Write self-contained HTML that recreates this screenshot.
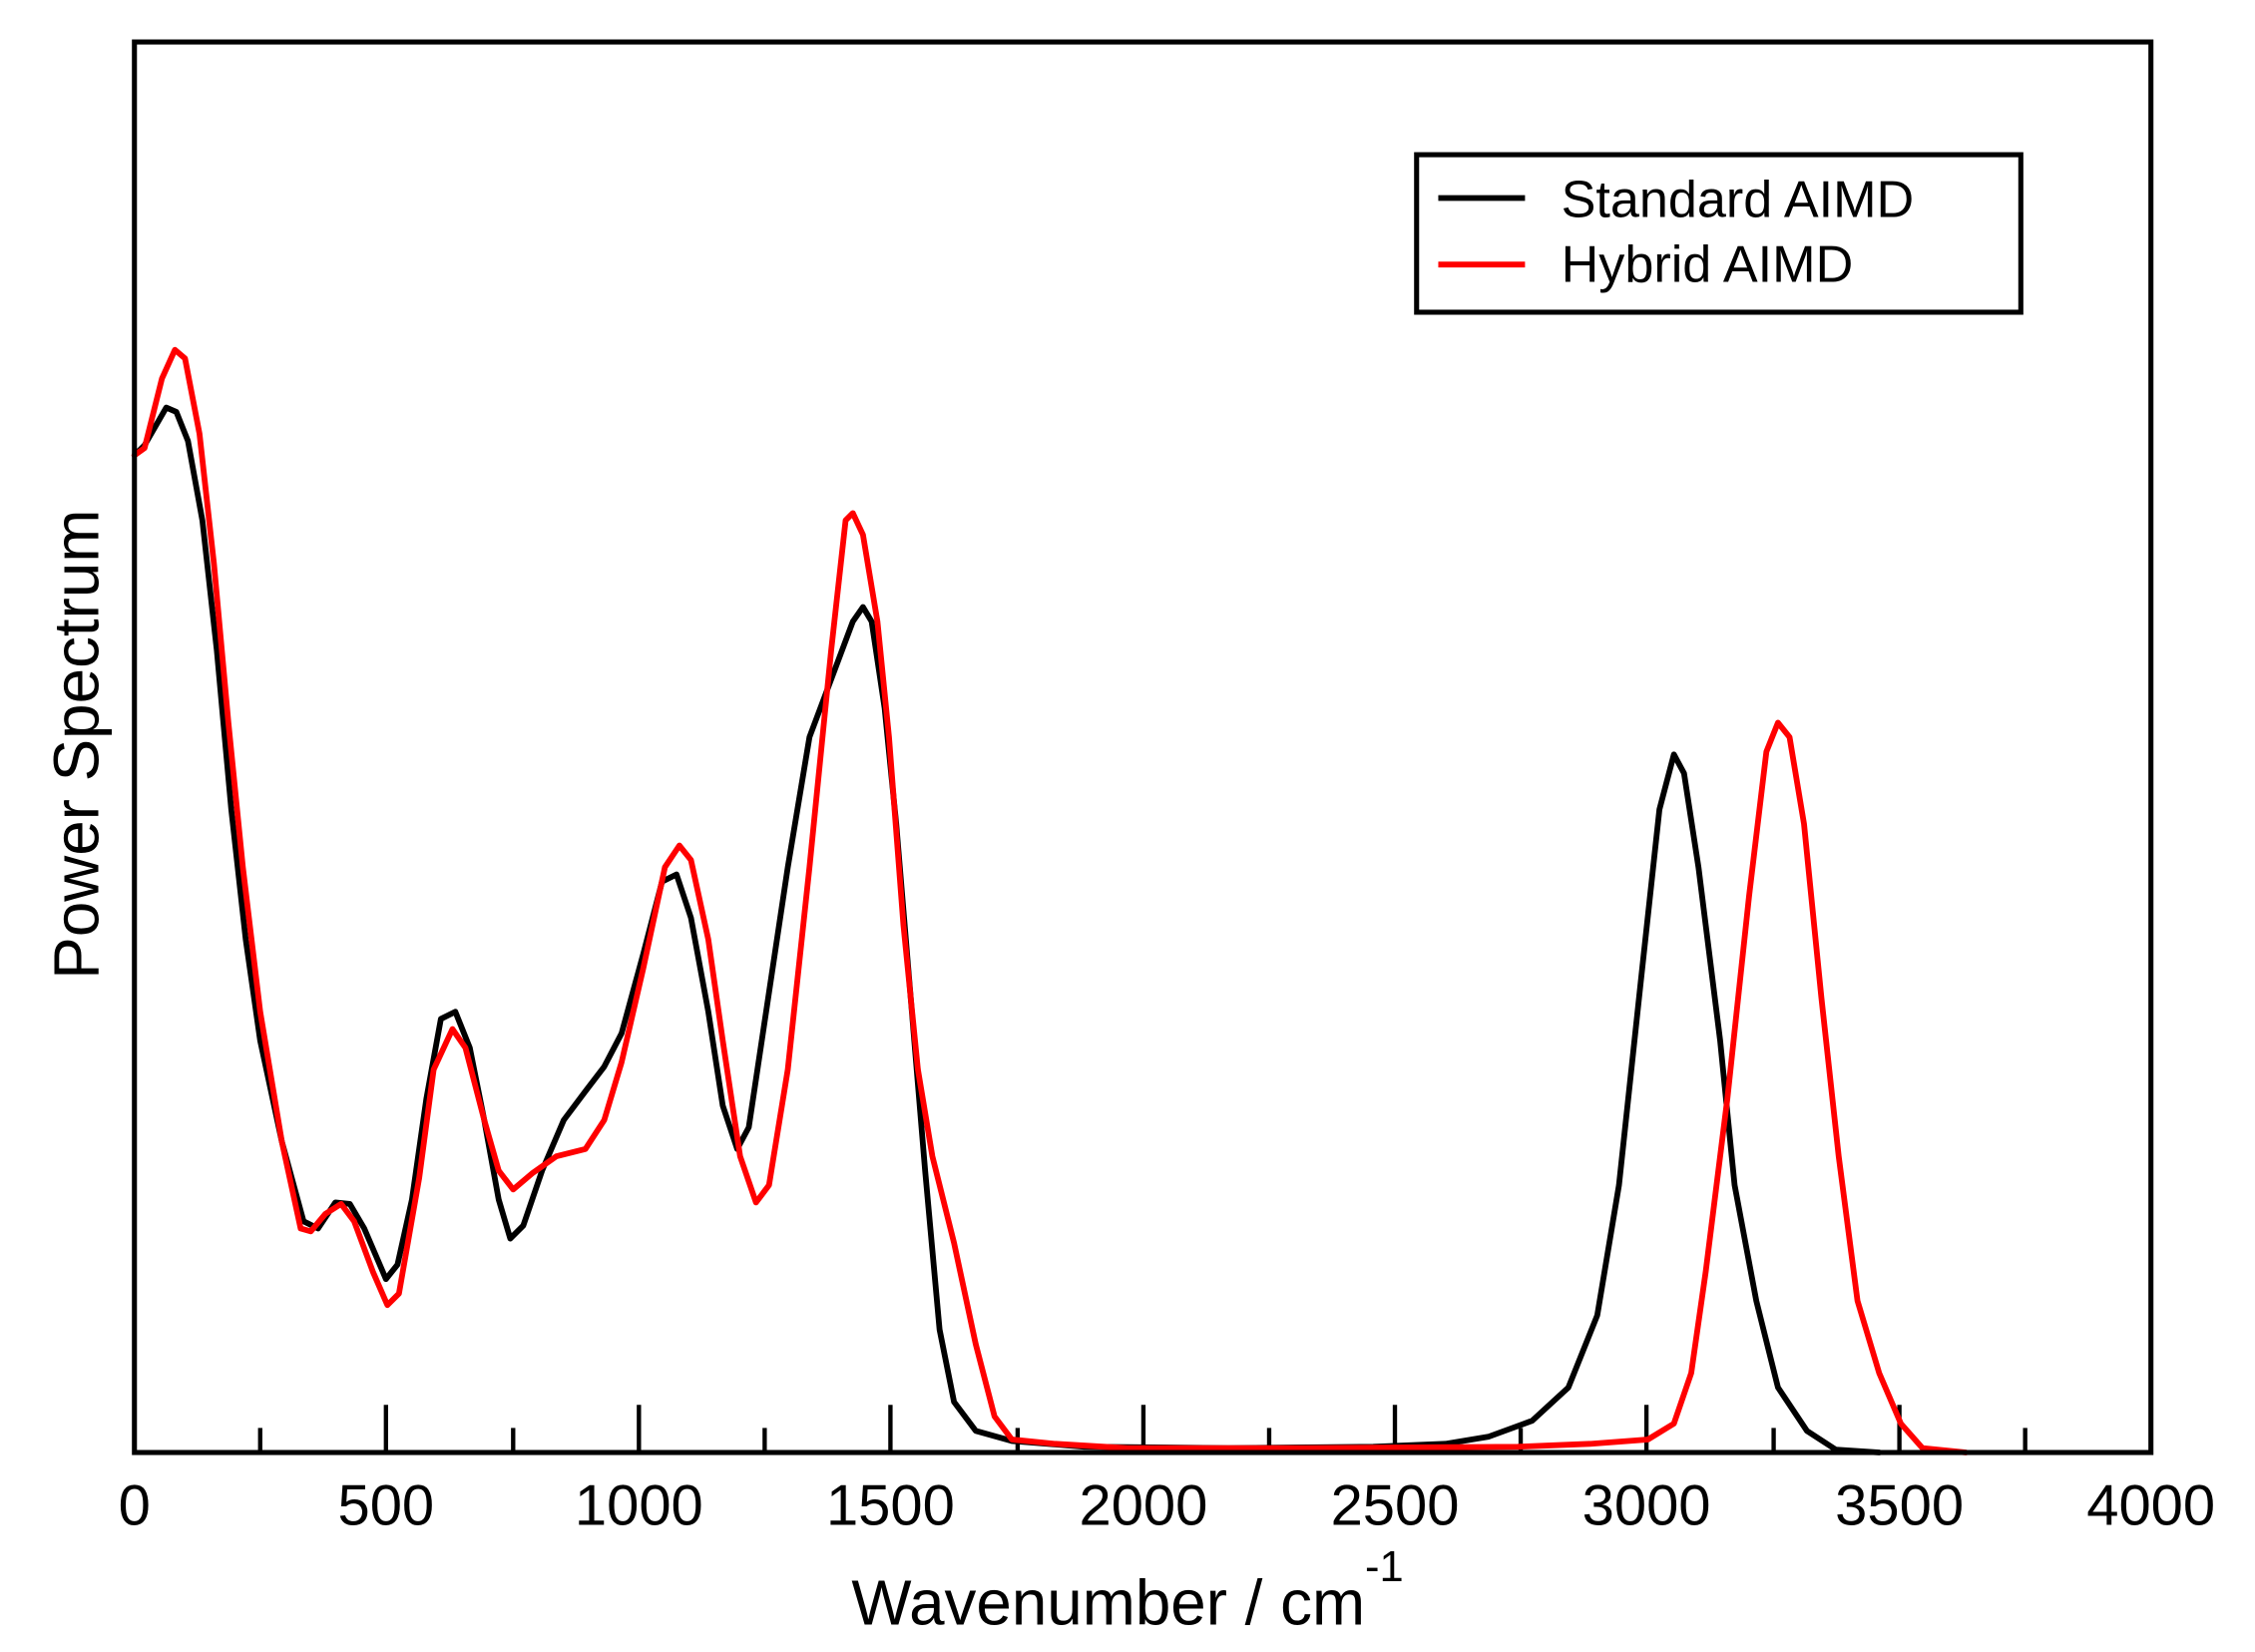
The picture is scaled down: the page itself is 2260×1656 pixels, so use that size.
<!DOCTYPE html>
<html><head><style>html,body{margin:0;padding:0;background:#fff}svg{display:block}</style></head>
<body>
<svg width="2260" height="1656" viewBox="0 0 1560 1143" xmlns="http://www.w3.org/2000/svg" font-family="Liberation Sans, sans-serif">
<rect width="1560" height="1143" fill="#fff"/>
<g stroke="#000" stroke-width="3">
<line x1="93" y1="1004" x2="93" y2="972"/><line x1="267" y1="1004" x2="267" y2="972"/><line x1="442" y1="1004" x2="442" y2="972"/><line x1="616" y1="1004" x2="616" y2="972"/><line x1="791" y1="1004" x2="791" y2="972"/><line x1="965" y1="1004" x2="965" y2="972"/><line x1="1139" y1="1004" x2="1139" y2="972"/><line x1="1314" y1="1004" x2="1314" y2="972"/>
<line x1="180" y1="1004" x2="180" y2="988"/><line x1="355" y1="1004" x2="355" y2="988"/><line x1="529" y1="1004" x2="529" y2="988"/><line x1="704" y1="1004" x2="704" y2="988"/><line x1="878" y1="1004" x2="878" y2="988"/><line x1="1052" y1="1004" x2="1052" y2="988"/><line x1="1227" y1="1004" x2="1227" y2="988"/><line x1="1401" y1="1004" x2="1401" y2="988"/>
</g>
<g fill="none" stroke-width="4" stroke-linejoin="round" stroke-linecap="round">
<polyline stroke="#000" points="93,315 100,308 115,282 122,285 130,305 140,360 150,450 160,560 170,650 180,720 195,790 210,845 220,850 232,832 242,833 252,850 267,885 275,875 285,830 295,760 305,705 315,700 325,725 335,775 345,830 353,857 362,848 375,810 390,775 405,755 418,738 430,715 445,660 458,610 468,605 478,635 490,700 500,765 510,795 518,780 530,700 545,600 560,510 575,470 590,430 597,420 603,430 612,490 620,570 630,690 640,810 650,920 660,970 675,990 700,997 750,1001 850,1002 950,1001 1000,999 1030,994 1060,983 1085,960 1105,910 1120,820 1135,680 1148,560 1158,522 1165,535 1175,600 1190,720 1200,820 1215,900 1230,960 1250,990 1270,1003 1300,1005"/>
<polyline stroke="#f00" points="93,315 100,310 112,262 121,242 128,248 138,300 148,390 158,500 168,600 180,700 195,790 208,850 215,852 225,840 236,833 245,845 258,880 268,903 276,895 290,815 300,740 313,712 322,725 335,775 345,810 355,823 368,812 385,800 405,795 418,775 430,735 445,670 460,600 470,585 478,595 490,650 500,720 512,800 523,832 532,820 545,740 560,600 575,450 585,360 590,355 597,370 607,430 615,510 625,640 635,740 645,800 660,860 675,930 688,980 700,996 730,999 780,1002 900,1002 1050,1001 1100,999 1140,996 1158,985 1170,950 1180,880 1195,760 1210,620 1222,520 1230,500 1238,510 1248,570 1260,690 1272,800 1285,900 1300,950 1315,985 1330,1002 1360,1005"/>
</g>
<rect x="93" y="29" width="1395" height="976" fill="none" stroke="#000" stroke-width="3.5"/>
<rect x="980" y="107" width="418" height="109" fill="#fff" stroke="#000" stroke-width="3.5"/>
<line x1="995" y1="137" x2="1055" y2="137" stroke="#000" stroke-width="4"/>
<line x1="995" y1="183" x2="1055" y2="183" stroke="#f00" stroke-width="4"/>
<g font-size="36" fill="#000">
<text x="1080" y="150">Standard AIMD</text>
<text x="1080" y="195">Hybrid AIMD</text>
</g>
<g font-size="40" text-anchor="middle" fill="#000">
<text x="93" y="1055">0</text><text x="267" y="1055">500</text><text x="442" y="1055">1000</text><text x="616" y="1055">1500</text><text x="791" y="1055">2000</text><text x="965" y="1055">2500</text><text x="1139" y="1055">3000</text><text x="1314" y="1055">3500</text><text x="1488" y="1055">4000</text>
</g>
<text x="780" y="1124" font-size="44" text-anchor="middle">Wavenumber / cm<tspan font-size="30" dy="-30">-1</tspan></text>
<text transform="translate(68,515) rotate(-90)" font-size="44" text-anchor="middle">Power Spectrum</text>
</svg>
</body></html>
